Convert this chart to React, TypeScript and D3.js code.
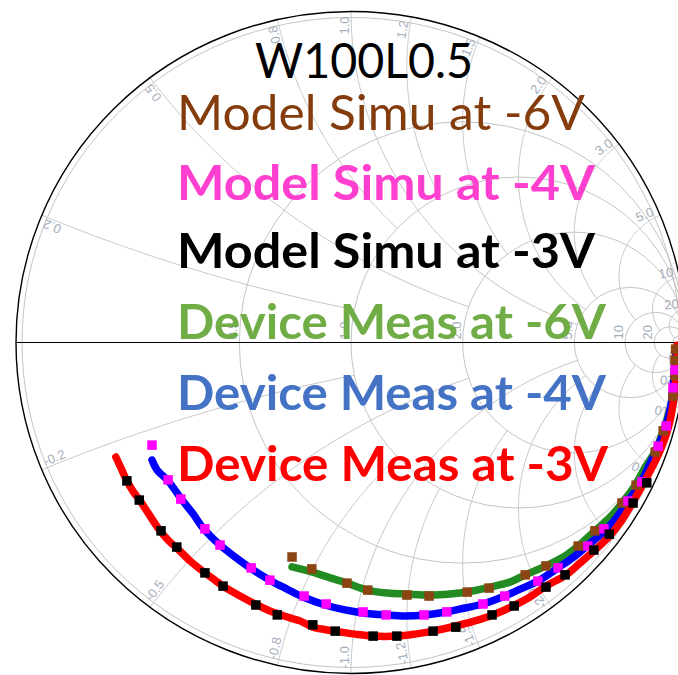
import React from 'react';
import * as d3 from 'd3';

const W = 678, H = 675;
// chart frame (slightly wider than tall, as in the reference picture)
const CX = 351, CY = 342.5, RX = 335, RY = 331;

const titleText = 'W100L0.5';
const legendLabels = ['Model Simu at -6V', 'Model Simu at -4V', 'Model Simu at -3V', 'Device Meas at -6V', 'Device Meas at -4V', 'Device Meas at -3V'];
const legendColors = ['#843C0C', '#FF3FCF', '#000000', '#70AD47', '#4472C4', '#FF0000'];
const legendBold = [false, true, true, true, true, true];

const resistanceValues = [0.5, 1, 2, 5, 10, 20, 50];
const resistanceLabels = ['0.5', '1.0', '2.0', '5.0', '10', '20'];
const reactanceValues = [0.2, 0.5, 0.8, 1, 1.2, 1.5, 2, 3, 5, 10, 20, 50];
const reactanceEnds = [1, 2, 1, 5, 1, 2, 5, 5, 10, 20, 50, 1e6];
const reactanceLabels = ['0.2', '0.5', '0.8', '1.0', '1.2', '1.5', '2.0', '3.0', '5.0', '10', '20', ''];

// Reflection coefficient (re, im) of each trace
const measM3V: [number, number][] = [
  [-0.702, -0.346], [-0.684, -0.385], [-0.669, -0.418], [-0.651, -0.449], [-0.629, -0.479], [-0.600, -0.524],
  [-0.570, -0.569], [-0.546, -0.597], [-0.520, -0.621], [-0.480, -0.660], [-0.436, -0.696], [-0.406, -0.718],
  [-0.382, -0.736], [-0.331, -0.766], [-0.281, -0.793], [-0.242, -0.811], [-0.217, -0.820], [-0.182, -0.832],
  [-0.152, -0.841], [-0.114, -0.860], [-0.047, -0.872], [0.012, -0.881], [0.066, -0.887], [0.137, -0.887],
  [0.191, -0.881], [0.245, -0.872], [0.313, -0.856], [0.370, -0.841], [0.424, -0.823], [0.484, -0.796],
  [0.534, -0.769], [0.582, -0.736], [0.642, -0.702], [0.684, -0.666], [0.728, -0.627], [0.774, -0.582],
  [0.809, -0.536], [0.836, -0.491], [0.877, -0.418], [0.917, -0.340], [0.947, -0.258], [0.961, -0.189],
  [0.970, -0.098], [0.973, -0.008],
];
const measM4V: [number, number][] = [
  [-0.594, -0.355], [-0.579, -0.385], [-0.546, -0.418], [-0.504, -0.476], [-0.471, -0.518], [-0.442, -0.560],
  [-0.391, -0.612], [-0.346, -0.648], [-0.301, -0.681], [-0.242, -0.718], [-0.191, -0.745], [-0.143, -0.769],
  [-0.077, -0.793], [-0.018, -0.808], [0.036, -0.817], [0.105, -0.823], [0.161, -0.826], [0.221, -0.823],
  [0.284, -0.814], [0.340, -0.802], [0.394, -0.790], [0.459, -0.766], [0.505, -0.745], [0.558, -0.721],
  [0.618, -0.681], [0.669, -0.645], [0.707, -0.612], [0.758, -0.569], [0.794, -0.527], [0.827, -0.479],
  [0.866, -0.421], [0.892, -0.367], [0.917, -0.313], [0.941, -0.249], [0.955, -0.189], [0.961, -0.137],
  [0.967, -0.068], [0.970, -0.017],
];
const measM6V: [number, number][] = [
  [-0.176, -0.678], [-0.152, -0.684], [-0.117, -0.693], [-0.062, -0.711], [-0.012, -0.727], [0.047, -0.748],
  [0.108, -0.757], [0.167, -0.760], [0.236, -0.763], [0.295, -0.760], [0.347, -0.754], [0.415, -0.739],
  [0.474, -0.724], [0.520, -0.702], [0.582, -0.675], [0.639, -0.645], [0.678, -0.615], [0.728, -0.569],
  [0.774, -0.527], [0.809, -0.485], [0.848, -0.431], [0.877, -0.379], [0.908, -0.328], [0.932, -0.267],
  [0.947, -0.219], [0.961, -0.168], [0.967, -0.098], [0.970, -0.023],
];
const modelM3V: [number, number][] = [
  [-0.669, -0.418], [-0.632, -0.476], [-0.567, -0.569], [-0.520, -0.618], [-0.436, -0.696], [-0.382, -0.736],
  [-0.284, -0.793], [-0.220, -0.823], [-0.114, -0.853], [-0.047, -0.872], [0.066, -0.887], [0.137, -0.887],
  [0.245, -0.872], [0.313, -0.860], [0.421, -0.823], [0.487, -0.796], [0.582, -0.739], [0.639, -0.702],
  [0.725, -0.627], [0.771, -0.579], [0.842, -0.485], [0.883, -0.424],
];
const modelM4V: [number, number][] = [
  [-0.594, -0.310], [-0.546, -0.415], [-0.508, -0.473], [-0.436, -0.563], [-0.391, -0.612], [-0.298, -0.681],
  [-0.242, -0.718], [-0.140, -0.766], [-0.074, -0.790], [0.036, -0.814], [0.105, -0.823], [0.218, -0.823],
  [0.286, -0.814], [0.394, -0.790], [0.459, -0.766], [0.558, -0.721], [0.618, -0.681], [0.707, -0.615],
  [0.755, -0.563], [0.827, -0.479], [0.868, -0.421], [0.917, -0.313], [0.941, -0.252], [0.961, -0.137],
  [0.967, -0.083],
];
const modelM6V: [number, number][] = [
  [-0.176, -0.648], [-0.117, -0.684], [-0.012, -0.727], [0.050, -0.748], [0.167, -0.763], [0.233, -0.766],
  [0.347, -0.754], [0.412, -0.742], [0.520, -0.702], [0.582, -0.675], [0.678, -0.615], [0.728, -0.569],
  [0.809, -0.485], [0.851, -0.431], [0.908, -0.331], [0.932, -0.267], [0.961, -0.162], [0.967, -0.100],
  [0.967, -0.053], [0.969, -0.020],
];

const xS = d3.scaleLinear().domain([-1, 1]).range([CX - RX, CX + RX]);
const yS = d3.scaleLinear().domain([-1, 1]).range([CY + RY, CY - RY]);

const gammaOf = (r: number, x: number): [number, number] => {
  const den = (r + 1) * (r + 1) + x * x;
  return [(r * r + x * x - 1) / den, (2 * x) / den];
};

const line = d3.line<[number, number]>().x((d) => xS(d[0])).y((d) => yS(d[1]));
const smooth = d3.line<[number, number]>().x((d) => xS(d[0])).y((d) => yS(d[1])).curve(d3.curveCatmullRom.alpha(0.5));

function reactancePath(x: number, rEnd: number) {
  const tEnd = rEnd / (1 + rEnd);
  const pts: [number, number][] = d3.range(0, 201).map((i) => {
    const t = (i / 200) * tEnd;
    const r = t / (1 - t);
    return gammaOf(r, x);
  });
  return line(pts) || '';
}

export default function App() {
  const gridColor = '#c4c4c4';
  const labelColor = '#a4adbb';
  const traces = [
    { data: measM6V, color: '#228B22' },
    { data: measM4V, color: '#0000FF' },
    { data: measM3V, color: '#FF0000' },
  ];
  const markerSets = [
    { data: modelM6V, color: '#8B4513' },
    { data: modelM4V, color: '#FF00FF' },
    { data: modelM3V, color: '#000000' },
  ];
  const legendWidths = [408, 418, 418, 429, 429, 431];
  const legendBase = [130, 200, 268, 339, 410, 481];
  const ms = 9.5;
  const ex = xS(1) - xS(0), ey = yS(0) - yS(1);
  return (
    <div style={{ position: 'absolute', left: 0, top: 0 }}>
      <svg width={W} height={H} viewBox={`0 0 ${W} ${H}`} style={{ display: 'block', background: '#fff' }}>
        <defs>
          <clipPath id="unit">
            <ellipse cx={xS(0)} cy={yS(0)} rx={ex} ry={ey} />
          </clipPath>
        </defs>
        <g clipPath="url(#unit)" fill="none" stroke={gridColor} strokeWidth={1}>
          {resistanceValues.map((r) => {
            const c = r / (1 + r);
            const rr = 1 / (1 + r);
            return <ellipse key={'r' + r} cx={xS(c)} cy={yS(0)} rx={xS(rr) - xS(0)} ry={yS(0) - yS(rr)} />;
          })}
          {reactanceValues.map((x, i) => (
            <g key={'x' + x}>
              <path d={reactancePath(x, reactanceEnds[i])} />
              <path d={reactancePath(-x, reactanceEnds[i])} />
            </g>
          ))}
        </g>
        <ellipse cx={xS(0)} cy={yS(0)} rx={ex - 6} ry={ey - 6} fill="none" stroke={gridColor} strokeWidth={1} />
        <ellipse cx={xS(0)} cy={yS(0)} rx={ex} ry={ey} fill="none" stroke="#000" strokeWidth={1.4} />
        <line x1={xS(-1)} x2={xS(1)} y1={yS(0)} y2={yS(0)} stroke="#000" strokeWidth={1.2} />
        <g fill={labelColor} fontFamily="'Liberation Sans', Arial, sans-serif" fontSize={13}>
          {reactanceValues.map((x, i) => {
            if (!reactanceLabels[i]) return null;
            const [gr, gi] = gammaOf(0, x);
            const rl = 0.985;
            const px = xS(gr * rl), py = yS(gi * rl);
            const nx = xS(gr * rl), ny = yS(-gi * rl);
            const deg = (Math.atan2(yS(0) - py, px - xS(0)) * 180) / Math.PI;
            return (
              <g key={'xl' + x}>
                <text x={px} y={py} transform={`rotate(${-deg} ${px} ${py})`} textAnchor="end" dy={-2}>{reactanceLabels[i]}</text>
                <text x={nx} y={ny} transform={`rotate(${deg + 180} ${nx} ${ny})`} textAnchor="start" dy={-2}>{'-' + reactanceLabels[i]}</text>
              </g>
            );
          })}
          {resistanceLabels.map((lab, i) => {
            const r = resistanceValues[i];
            const g = (r - 1) / (r + 1);
            const px = xS(g) - 2, py = yS(0) - 3;
            return (
              <text key={'rl' + lab} x={px} y={py} transform={`rotate(-90 ${px} ${py})`} textAnchor="start">{lab}</text>
            );
          })}
        </g>
        <g fill="none" strokeLinecap="round" strokeLinejoin="round">
          {traces.map((t, i) => (
            <path key={'t' + i} d={smooth(t.data) || ''} stroke={t.color} strokeWidth={7.5} />
          ))}
        </g>
        {markerSets.map((m, i) => (
          <g key={'m' + i} fill={m.color}>
            {m.data.map((d, j) => (
              <rect key={j} x={xS(d[0]) - ms / 2} y={yS(d[1]) - ms / 2} width={ms} height={ms} />
            ))}
          </g>
        ))}
        <g fontFamily="Lato, 'Open Sans', sans-serif" fontSize={48}>
          <text x={255} y={78} fill="#000" textLength={218} lengthAdjust="spacingAndGlyphs">{titleText}</text>
          {legendLabels.map((lab, i) => (
            <text key={lab} x={177} y={legendBase[i]} fill={legendColors[i]} fontWeight={legendBold[i] ? 700 : 400}
              textLength={legendWidths[i]} lengthAdjust="spacingAndGlyphs">{lab}</text>
          ))}
        </g>
      </svg>
    </div>
  );
}
